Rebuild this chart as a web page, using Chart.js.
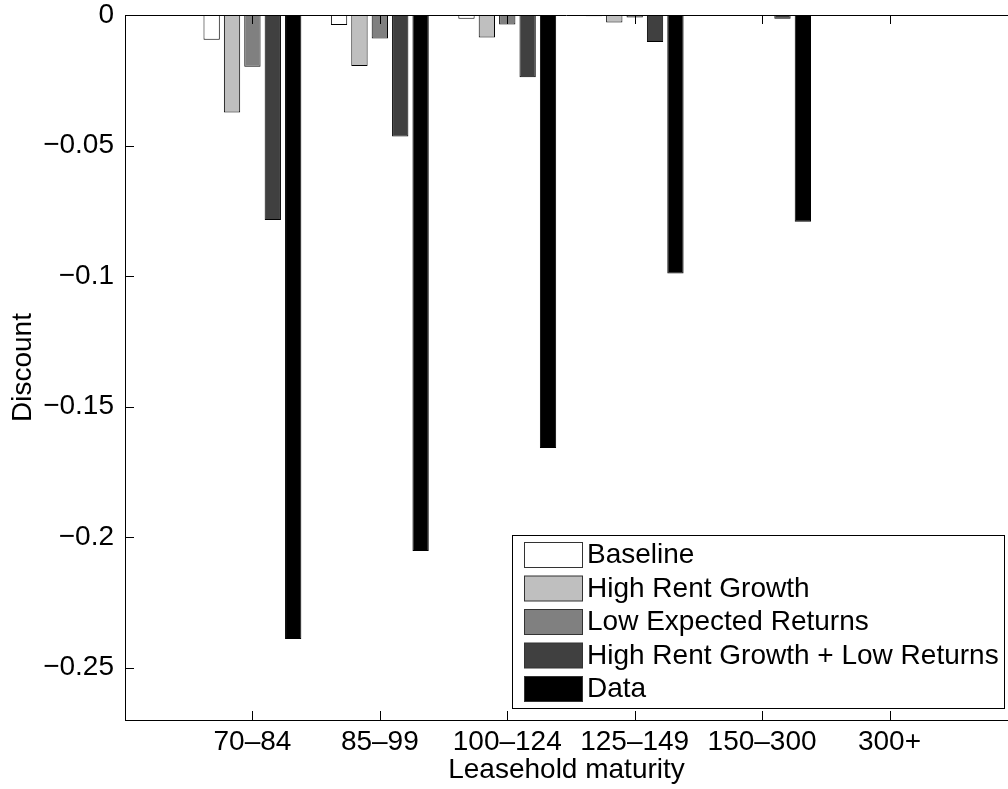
<!DOCTYPE html>
<html>
<head>
<meta charset="utf-8">
<script src="https://cdn.jsdelivr.net/npm/chart.js@4"></script>
<style>
  html, body { margin: 0; padding: 0; background: #fff; overflow: hidden; }
  #wrap { width: 1008px; height: 789px; }
</style>
</head>
<body>
<div id="wrap"><canvas id="discountChart" width="1008" height="789"></canvas></div>
<script>
// --- Data ---
const categories = ['70–84', '85–99', '100–124', '125–149', '150–300', '300+'];
const positions = [1, 2, 3, 4, 5, 6];
const yTicks = [-0.25, -0.2, -0.15, -0.1, -0.05, 0];

const baseline = [-0.0095, -0.0038, -0.0014, -0.0005, -0.0001, 0];
const highRentGrowth = [-0.0373, -0.0195, -0.0086, -0.0029, -0.0003, 0];
const lowExpectedReturns = [-0.0198, -0.0090, -0.0036, -0.0010, -0.0001, 0];
const highRentLowReturns = [-0.0785, -0.0465, -0.0238, -0.0103, -0.0014, 0];
const observed = [-0.2390, -0.2053, -0.1658, -0.0990, -0.0792, 0];

const FONT = { family: '"Liberation Sans", Arial, Helvetica, sans-serif', size: 28 };

function toPoints(values) {
  return values.map((v, i) => ({ x: positions[i], y: v }));
}

function barSet(label, values, fill) {
  return {
    label: label,
    data: toPoints(values),
    backgroundColor: fill,
    borderColor: '#000',
    borderWidth: 1,
    barPercentage: 0.8,
    categoryPercentage: 0.8
  };
}

// inward ticks, top box line and the in-axes legend (MATLAB style)
const matlabFrame = {
  id: 'matlabFrame',
  afterDatasetsDraw(chart) {
    const { ctx, chartArea: a, scales } = chart;
    ctx.save();
    ctx.strokeStyle = '#000';
    ctx.lineWidth = 1;
    ctx.beginPath();
    ctx.moveTo(a.left, a.top + 0.5);
    ctx.lineTo(a.right, a.top + 0.5);
    yTicks.forEach(v => {
      const y = Math.round(scales.y.getPixelForValue(v)) + 0.5;
      ctx.moveTo(a.left, y);
      ctx.lineTo(a.left + 9, y);
    });
    positions.forEach(p => {
      const x = Math.round(scales.x.getPixelForValue(p)) + 0.5;
      ctx.moveTo(x, a.bottom);
      ctx.lineTo(x, a.bottom - 9);
      ctx.moveTo(x, a.top);
      ctx.lineTo(x, a.top + 9);
    });
    ctx.stroke();

    // legend box
    const bx = 512.5, by = 535.5, bw = 492, bh = 173;
    ctx.fillStyle = '#fff';
    ctx.fillRect(bx, by, bw, bh);
    ctx.strokeRect(bx, by, bw, bh);
    ctx.font = FONT.size + 'px ' + FONT.family;
    ctx.textBaseline = 'middle';
    chart.data.datasets.forEach((ds, i) => {
      const py = 542.5 + i * 33.5;
      ctx.fillStyle = ds.backgroundColor;
      ctx.fillRect(524.5, py, 58, 25);
      ctx.strokeStyle = '#333';
      ctx.strokeRect(524.5, py, 58, 25);
      ctx.fillStyle = '#000';
      ctx.fillText(ds.label, 587, py + 13);
    });
    ctx.restore();
  }
};

new Chart(document.getElementById('discountChart').getContext('2d'), {
  type: 'bar',
  data: {
    datasets: [
      barSet('Baseline', baseline, '#ffffff'),
      barSet('High Rent Growth', highRentGrowth, '#bfbfbf'),
      barSet('Low Expected Returns', lowExpectedReturns, '#808080'),
      barSet('High Rent Growth + Low Returns', highRentLowReturns, '#404040'),
      barSet('Data', observed, '#000000')
    ]
  },
  options: {
    responsive: false,
    animation: false,
    devicePixelRatio: 1,
    layout: { padding: { top: 15, right: 0, bottom: 0, left: 0 } },
    plugins: {
      legend: { display: false },
      tooltip: { enabled: false }
    },
    scales: {
      x: {
        type: 'linear',
        offset: false,
        min: 0,
        max: 6.93,
        grid: { display: false, drawTicks: false },
        border: { display: true, color: '#000', width: 1 },
        afterBuildTicks: scale => { scale.ticks = positions.map(v => ({ value: v })); },
        afterFit: scale => {
          scale.height = 69;
          scale.paddingLeft = 0;
          scale.paddingRight = 0;
        },
        ticks: {
          color: '#000',
          font: FONT,
          padding: 5,
          maxRotation: 0,
          autoSkip: false,
          callback: v => categories[positions.indexOf(v)] || ''
        },
        title: {
          display: true,
          text: 'Leasehold maturity',
          color: '#000',
          font: FONT,
          padding: { top: 0, bottom: 2 }
        }
      },
      y: {
        min: -0.27,
        max: 0,
        grid: { display: false, drawTicks: false },
        border: { display: true, color: '#000', width: 1 },
        afterBuildTicks: scale => { scale.ticks = yTicks.map(v => ({ value: v })); },
        afterFit: scale => {
          scale.width = 125;
          scale.paddingTop = 0;
          scale.paddingBottom = 0;
        },
        ticks: {
          color: '#000',
          font: FONT,
          padding: 11,
          callback: v => (v === 0 ? '0' : '\u2212' + Math.abs(v))
        },
        title: {
          display: true,
          text: 'Discount',
          color: '#000',
          font: FONT,
          padding: { top: 6, bottom: 0 }
        }
      }
    }
  },
  plugins: [matlabFrame]
});
</script>
</body>
</html>
